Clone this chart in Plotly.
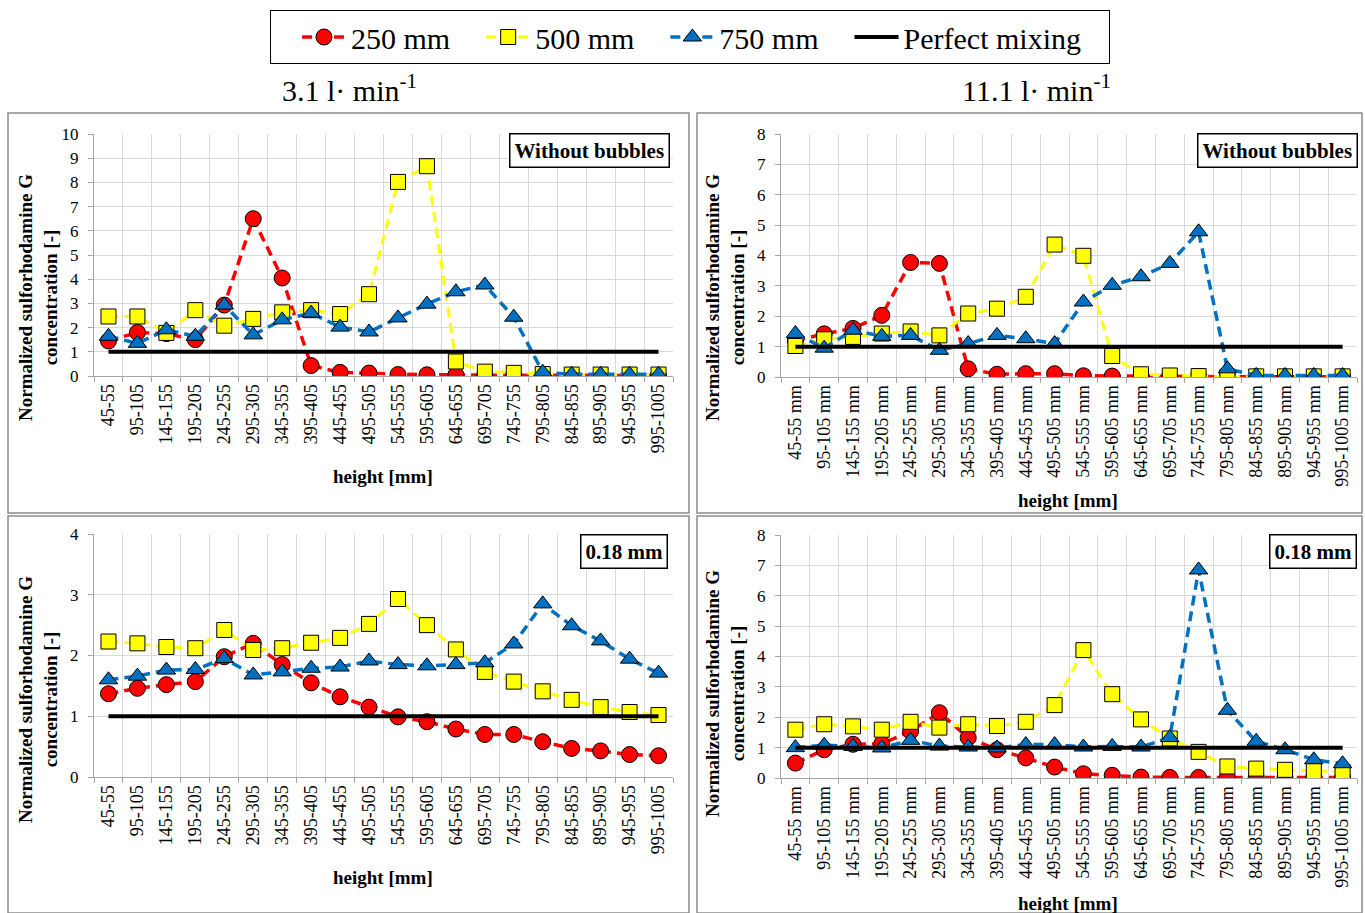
import plotly.graph_objects as go

W, H = 1365, 913

cats = ["45-55", "95-105", "145-155", "195-205", "245-255", "295-305", "345-355",
        "395-405", "445-455", "495-505", "545-555", "595-605", "645-655", "695-705",
        "745-755", "795-805", "845-855", "895-905", "945-955", "995-1005"]
cats_mm = [c + " mm" for c in cats]

# Top-left: 3.1 l/min, without bubbles
tl_250 = [1.45, 1.8, 1.75, 1.5, 2.93, 6.5, 4.05, 0.43, 0.15, 0.12, 0.06, 0.05, 0.05, 0.03, 0.03, 0.03, 0.03, 0.02, 0.02, 0.02]
tl_500 = [2.46, 2.46, 1.78, 2.72, 2.08, 2.36, 2.63, 2.72, 2.56, 3.38, 8.02, 8.67, 0.6, 0.18, 0.13, 0.08, 0.06, 0.06, 0.06, 0.06]
tl_750 = [1.64, 1.35, 1.91, 1.64, 2.93, 1.7, 2.32, 2.6, 2.02, 1.82, 2.4, 2.97, 3.48, 3.76, 2.43, 0.16, 0.07, 0.07, 0.07, 0.07]

# Top-right: 11.1 l/min, without bubbles
tr_250 = [1.2, 1.42, 1.6, 2.03, 3.77, 3.74, 0.27, 0.09, 0.11, 0.11, 0.04, 0.03, 0.02, 0.02, 0.02, 0.01, 0.01, 0.01, 0.01, 0.01]
tr_500 = [1.02, 1.24, 1.32, 1.43, 1.5, 1.37, 2.09, 2.25, 2.64, 4.36, 3.99, 0.69, 0.09, 0.05, 0.03, 0.01, 0.02, 0.02, 0.02, 0.02]
tr_750 = [1.43, 0.95, 1.54, 1.34, 1.37, 0.88, 1.1, 1.37, 1.26, 1.1, 2.47, 3.02, 3.3, 3.74, 4.78, 0.27, 0.05, 0.05, 0.05, 0.05]

# Bottom-left: 3.1 l/min, 0.18 mm
bl_250 = [1.37, 1.46, 1.52, 1.57, 1.98, 2.2, 1.85, 1.55, 1.32, 1.15, 0.99, 0.91, 0.79, 0.7, 0.7, 0.58, 0.47, 0.43, 0.37, 0.35]
bl_500 = [2.23, 2.2, 2.14, 2.12, 2.42, 2.09, 2.12, 2.21, 2.29, 2.52, 2.93, 2.5, 2.1, 1.73, 1.57, 1.41, 1.27, 1.15, 1.07, 1.02]
bl_750 = [1.6, 1.66, 1.76, 1.77, 1.95, 1.68, 1.73, 1.79, 1.81, 1.91, 1.85, 1.83, 1.85, 1.88, 2.19, 2.85, 2.49, 2.24, 1.94, 1.71]

# Bottom-right: 11.1 l/min, 0.18 mm
br_250 = [0.49, 0.93, 1.11, 1.13, 1.54, 2.15, 1.33, 0.93, 0.66, 0.36, 0.14, 0.09, 0.03, 0.02, 0.02, 0.02, 0.02, 0.02, 0.02, 0.02]
br_500 = [1.59, 1.77, 1.7, 1.59, 1.85, 1.66, 1.77, 1.71, 1.85, 2.4, 4.21, 2.76, 1.93, 1.3, 0.86, 0.38, 0.31, 0.27, 0.23, 0.2]
br_750 = [1.0, 1.08, 1.04, 0.99, 1.24, 1.05, 1.02, 0.99, 1.1, 1.1, 1.02, 1.04, 1.02, 1.33, 6.85, 2.23, 1.21, 0.93, 0.6, 0.47]

perfect = [1.0] * 20

series_names = ["250 mm", "500 mm", "750 mm", "Perfect mixing"]
col_titles = ["3.1 l· min<sup>-1</sup>", "11.1 l· min<sup>-1</sup>"]
panel_labels = ["Without bubbles", "Without bubbles", "0.18 mm", "0.18 mm"]
y_max = [10, 8, 4, 8]

FONT = "Liberation Serif, Times New Roman, serif"
RED, YEL, BLU = "#FF0000", "#FFFF00", "#0070C0"
DASH = "10px,6px"
END_PAD = "\u00a0\u00a0\u00a0"


def px_x(p):
    return p / W


def px_y(p):
    return 1 - p / H


panels = [
    dict(cats=cats, data=[tl_250, tl_500, tl_750], xd=(94, 673), yd=(134, 376), box=(8, 113, 689, 513),
         ytitle=(38, 298), xtitle=(383, 476), lab=(670, 133)),
    dict(cats=cats_mm, data=[tr_250, tr_500, tr_750], xd=(781, 1357), yd=(134, 377), box=(697, 113, 1362, 513),
         ytitle=(725, 298), xtitle=(1068, 501), lab=(1358, 133)),
    dict(cats=cats, data=[bl_250, bl_500, bl_750], xd=(94, 673), yd=(534, 777), box=(8, 516, 689, 913),
         ytitle=(38, 700), xtitle=(383, 877), lab=(668, 534)),
    dict(cats=cats_mm, data=[br_250, br_500, br_750], xd=(781, 1357), yd=(535, 778), box=(697, 516, 1362, 913),
         ytitle=(725, 694), xtitle=(1068, 903), lab=(1357, 534)),
]

fig = go.Figure()
layout = dict(width=W, height=H, margin=dict(l=0, r=0, t=0, b=0, pad=0, autoexpand=False),
              paper_bgcolor="white", plot_bgcolor="white",
              font=dict(family=FONT, color="black"))
shapes, annotations = [], []

for i, p in enumerate(panels):
    k = "" if i == 0 else str(i + 1)
    xa, ya = "x" + k, "y" + k
    r, yv, b = p["data"]
    show = i == 0
    fig.add_trace(go.Scatter(x=p["cats"], y=r, name=series_names[0], legendgroup="a", showlegend=show,
                             xaxis=xa, yaxis=ya, mode="lines+markers",
                             line=dict(color=RED, width=3.5, dash=DASH),
                             marker=dict(symbol="circle", size=16, color=RED, line=dict(color="black", width=1))))
    fig.add_trace(go.Scatter(x=p["cats"], y=yv, name=series_names[1], legendgroup="b", showlegend=show,
                             xaxis=xa, yaxis=ya, mode="lines+markers",
                             line=dict(color=YEL, width=3, dash=DASH),
                             marker=dict(symbol="square", size=15, color=YEL, line=dict(color="black", width=1))))
    fig.add_trace(go.Scatter(x=p["cats"], y=b, name=series_names[2], legendgroup="c", showlegend=show,
                             xaxis=xa, yaxis=ya, mode="lines+markers",
                             line=dict(color=BLU, width=3.5, dash=DASH),
                             marker=dict(symbol="triangle-up", size=16, color=BLU, line=dict(color="black", width=1))))
    fig.add_trace(go.Scatter(x=p["cats"], y=perfect, name=series_names[3] + END_PAD, legendgroup="d",
                             showlegend=show, xaxis=xa, yaxis=ya, mode="lines",
                             line=dict(color="black", width=4)))

    layout["xaxis" + k] = dict(domain=[px_x(p["xd"][0]), px_x(p["xd"][1])], anchor=ya,
                               type="category", tickson="boundaries", range=[-0.5, 19.5],
                               showgrid=True, gridcolor="#D9D9D9", showline=True, linecolor="#A6A6A6",
                               ticks="outside", ticklen=5, tickcolor="#A6A6A6", tickangle=-90,
                               tickfont=dict(size=18, family=FONT), fixedrange=True, automargin=False)
    layout["yaxis" + k] = dict(domain=[px_y(p["yd"][1]), px_y(p["yd"][0])], anchor=xa,
                               range=[0, y_max[i]], dtick=1, showgrid=True, gridcolor="#D9D9D9",
                               showline=True, linecolor="#A6A6A6", ticks="outside", ticklen=5,
                               tickcolor="#A6A6A6", zeroline=False, tickfont=dict(size=17, family=FONT),
                               ticklabelstandoff=6, fixedrange=True, automargin=False)

    x0, y0, x1, y1 = p["box"]
    shapes.append(dict(type="rect", xref="paper", yref="paper", x0=px_x(x0), x1=px_x(x1),
                       y0=px_y(y1), y1=px_y(y0), line=dict(color="#8C8C8C", width=1.5)))

    annotations.append(dict(text="<b>Normalized sulforhodamine G<br>concentration [-]</b>",
                            x=px_x(p["ytitle"][0]), y=px_y(p["ytitle"][1]), xref="paper", yref="paper",
                            xanchor="center", yanchor="middle", textangle=-90, showarrow=False,
                            font=dict(size=19, family=FONT)))
    annotations.append(dict(text="<b>height [mm]</b>", x=px_x(p["xtitle"][0]), y=px_y(p["xtitle"][1]),
                            xref="paper", yref="paper", xanchor="center", yanchor="middle",
                            showarrow=False, font=dict(size=19, family=FONT)))
    annotations.append(dict(text="<b>" + panel_labels[i] + "</b>", x=px_x(p["lab"][0]), y=px_y(p["lab"][1]),
                            xref="paper", yref="paper", xanchor="right", yanchor="top", showarrow=False,
                            bordercolor="black", borderwidth=1.5, borderpad=4, bgcolor="white",
                            font=dict(size=21, family=FONT)))

annotations.append(dict(text=col_titles[0], x=px_x(349), y=px_y(88), xref="paper", yref="paper",
                        xanchor="center", yanchor="middle", showarrow=False, font=dict(size=30, family=FONT)))
annotations.append(dict(text=col_titles[1], x=px_x(1036), y=px_y(88), xref="paper", yref="paper",
                        xanchor="center", yanchor="middle", showarrow=False, font=dict(size=30, family=FONT)))

layout["shapes"] = shapes
layout["annotations"] = annotations
layout["legend"] = dict(orientation="h", x=px_x(690), xanchor="center", y=px_y(10), yanchor="top",
                        bordercolor="black", borderwidth=1, bgcolor="white", itemwidth=44,
                        indentation=26, font=dict(size=30, family=FONT), traceorder="normal")
fig.update_layout(**layout)
fig.write_html("out.html",
               post_script="document.body.style.margin='0';document.documentElement.style.overflow='hidden';")
